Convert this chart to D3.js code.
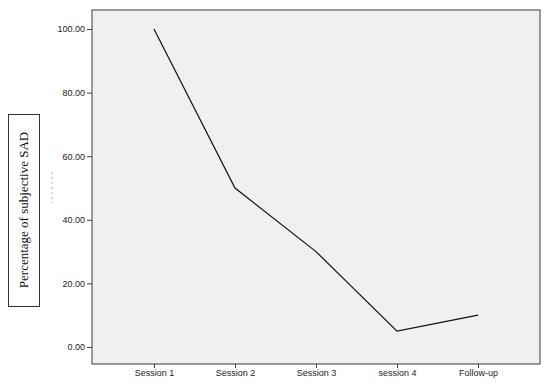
<!DOCTYPE html>
<html>
<head>
<meta charset="utf-8">
<script src="https://cdn.jsdelivr.net/npm/d3@7"></script>
<style>
  body { margin: 0; background: #fff; }
  svg { display: block; }
</style>
</head>
<body>
<div id="chart"></div>
<script>
// chart data
const sessions = ['Session 1', 'Session 2', 'Session 3', 'session 4', 'Follow-up'];
const sadPercent = [100, 50, 30, 5, 10];
const yTicks = [0, 20, 40, 60, 80, 100];

const width = 550, height = 383;
const plot = { left: 92, right: 540, top: 10, bottom: 364 };

const svg = d3.select('#chart').append('svg')
  .attr('width', width)
  .attr('height', height);

// Scales
const x = d3.scalePoint()
  .domain(sessions)
  .range([plot.left, plot.right])
  .padding(0.765);

const y = d3.scaleLinear()
  .domain([0, 100])
  .range([347, 29]);

// Plot background
svg.append('rect')
  .attr('x', plot.left)
  .attr('y', plot.top)
  .attr('width', plot.right - plot.left)
  .attr('height', plot.bottom - plot.top)
  .attr('fill', '#f0f0f0')
  .attr('stroke', '#3c3c3c')
  .attr('stroke-width', 1);

// Y axis
const yAxis = svg.append('g')
  .attr('transform', `translate(${plot.left},0)`)
  .call(d3.axisLeft(y).tickValues(yTicks).tickFormat(d3.format('.2f')).tickSize(5).tickPadding(2));
yAxis.select('.domain').remove();

// X axis
const xAxis = svg.append('g')
  .attr('transform', `translate(0,${plot.bottom})`)
  .call(d3.axisBottom(x).tickSize(4).tickPadding(2));
xAxis.select('.domain').remove();

svg.selectAll('.tick line').attr('stroke', '#3c3c3c');
svg.selectAll('.tick text')
  .attr('fill', '#222')
  .style('font-family', '"Liberation Sans", Arial, sans-serif')
  .style('font-size', '9px');

// Line
const line = d3.line()
  .x((d, i) => x(sessions[i]))
  .y(d => y(d));

svg.append('path')
  .datum(sadPercent)
  .attr('d', line)
  .attr('fill', 'none')
  .attr('stroke', '#111')
  .attr('stroke-width', 1.2);

// Y axis title in a box
svg.append('rect')
  .attr('x', 8.5)
  .attr('y', 114.5)
  .attr('width', 31)
  .attr('height', 192)
  .attr('fill', '#fff')
  .attr('stroke', '#333');

svg.append('text')
  .attr('transform', 'translate(28,210) rotate(-90)')
  .attr('text-anchor', 'middle')
  .style('font-family', '"Liberation Serif", "Times New Roman", serif')
  .style('font-size', '13px')
  .attr('fill', '#111')
  .text('Percentage of subjective SAD');

// faint dotted mark beside the title
svg.append('line')
  .attr('x1', 52).attr('x2', 52)
  .attr('y1', 172).attr('y2', 203)
  .attr('stroke', '#aaa')
  .attr('stroke-width', 1)
  .attr('stroke-dasharray', '2,3');
</script>
</body>
</html>
